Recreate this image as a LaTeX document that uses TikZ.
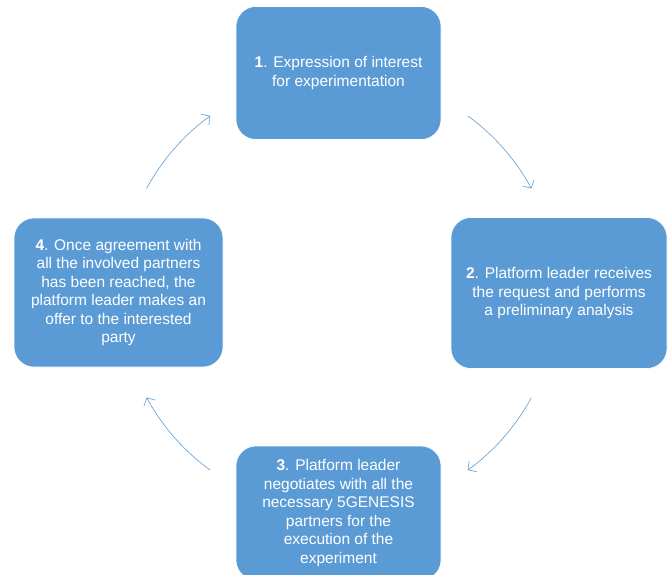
\documentclass[tikz,border=0pt]{standalone}
\usepackage{fontspec}
\setmainfont{Liberation Sans}
\usetikzlibrary{arrows.meta,calc}
\definecolor{boxblue}{RGB}{91,155,213}
\tikzset{
  stepbox/.style={draw=white, line width=0.6pt, fill=boxblue, rounded corners=20pt,
    text=white, align=center, inner sep=0pt, font=\fontsize{15.5}{18.5}\selectfont},
  cyclearrow/.style={draw=boxblue, line width=0.6pt, -{Straight Barb[length=6pt,width=13pt]}}
}
\begin{document}
\begin{tikzpicture}[x=1pt, y=-1pt]
            \useasboundingbox (0,0) rectangle (670,575);
            \node[stepbox, minimum width=205pt, minimum height=133pt] (expr) at (338.5,73) {\textbf{1}. Expression of interest\\for experimentation};
            \node[stepbox, minimum width=216pt, minimum height=151pt] (analysis) at (559,293) {\textbf{2}. Platform leader receives\\the request and performs\\a preliminary analysis};
            \node[stepbox, minimum width=205pt, minimum height=134pt] (negot) at (338.5,513) {\textbf{3}. Platform leader\\negotiates with all the\\necessary 5GENESIS\\partners for the\\execution of the\\experiment};
            \node[stepbox, minimum width=209pt, minimum height=149pt] (offer) at (118.5,292.5) {\textbf{4}. Once agreement with\\all the involved partners\\has been reached, the\\platform leader makes an\\offer to the interested\\party};
            \coordinate (ctr) at (339,293);
            \draw[cyclearrow] ($(ctr)+(-54:219)$) arc[start angle=-54, end angle=-28.5, radius=219];
            \draw[cyclearrow] ($(ctr)+(28.5:219)$) arc[start angle=28.5, end angle=54, radius=219];
            \draw[cyclearrow] ($(ctr)+(126:219)$) arc[start angle=126, end angle=151.5, radius=219];
            \draw[cyclearrow] ($(ctr)+(208.5:219)$) arc[start angle=208.5, end angle=234, radius=219];
        \end{tikzpicture}
\end{document}
